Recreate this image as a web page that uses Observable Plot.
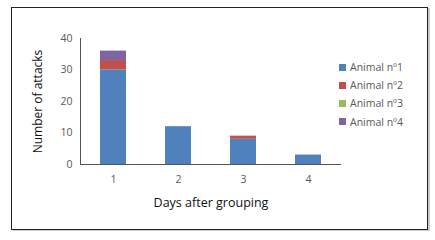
<!DOCTYPE html>
<html>
<head>
<meta charset="utf-8">
<script src="https://cdn.jsdelivr.net/npm/d3@7"></script>
<script src="https://cdn.jsdelivr.net/npm/@observablehq/plot@0.6"></script>
<style>
  body { margin: 0; background: #fff; }
  #wrap { position: relative; width: 435px; height: 240px; font-family: "Open Sans", "Liberation Sans", sans-serif; }
  #border { position: absolute; left: 11px; top: 7px; width: 415px; height: 221px; border: 1.5px solid #222; box-shadow: 2px 1px 0 #ccc; }
  #chart { position: absolute; left: 0; top: 0; }
  #legend { position: absolute; left: 339px; top: 58px; font-size: 10.5px; color: #595959; }
  .row { height: 18.2px; display: flex; align-items: center; }
  .sw { width: 7px; height: 7px; margin-right: 4px; }
</style>
</head>
<body>
<div id="wrap">
  <div id="border"></div>
  <div id="chart"></div>
  <div id="legend"></div>
</div>
<script>
const days = ["1", "2", "3", "4"];
const animalNames = ["Animal nº1", "Animal nº2", "Animal nº3", "Animal nº4"];
const animal1 = [30, 12, 8, 3];
const animal2 = [3, 0, 1, 0];
const animal3 = [0, 0, 0, 0];
const animal4 = [3, 0, 0, 0];
const yTicks = [0, 10, 20, 30, 40];
const colors = ["#4F81BD", "#C0504D", "#9BBB59", "#8064A2"];

const series = [animal1, animal2, animal3, animal4];
const data = [];
series.forEach((vals, s) => vals.forEach((v, i) => data.push({day: days[i], animal: animalNames[s], value: v})));

const plot = Plot.plot({
  width: 435,
  height: 240,
  marginLeft: 80,
  marginRight: 94,
  marginTop: 38,
  marginBottom: 76,
  style: {fontFamily: "'Open Sans', 'Liberation Sans', sans-serif", background: "transparent"},
  x: {domain: days, paddingInner: 0.6, paddingOuter: 0.3, label: null},
  y: {domain: [0, 40], label: null},
  color: {domain: animalNames, range: colors},
  marks: [
    Plot.barY(data, {x: "day", y: "value", fill: "animal"}),
    Plot.axisY({ticks: yTicks, tickSize: 0, tickPadding: 8, fontSize: 10.5, color: "#595959", label: "Number of attacks", labelAnchor: "center", labelOffset: 47, labelArrow: "none"}),
    Plot.axisX({tickSize: 0, tickPadding: 11, fontSize: 10.5, color: "#595959", label: "Days after grouping", labelAnchor: "center", labelOffset: 42, labelArrow: "none"}),
    Plot.frame({anchor: "left", stroke: "#555"}),
    Plot.ruleY([0], {stroke: "#555"})
  ]
});
plot.querySelectorAll('g[aria-label="y-axis label"], g[aria-label="x-axis label"]').forEach(g => {
  const fs = g.getAttribute("aria-label").startsWith("y") ? "12px" : "12.5px";
  g.setAttribute("fill", "#111");
  g.setAttribute("font-size", fs);
  g.querySelectorAll("text").forEach(t => { t.setAttribute("fill", "#111"); t.setAttribute("font-size", fs); });
});
document.getElementById("chart").appendChild(plot);

const legend = document.getElementById("legend");
animalNames.forEach((n, i) => {
  const r = document.createElement("div");
  r.className = "row";
  r.innerHTML = `<div class="sw" style="background:${colors[i]}"></div><span>${n}</span>`;
  legend.appendChild(r);
});
</script>
</body>
</html>
